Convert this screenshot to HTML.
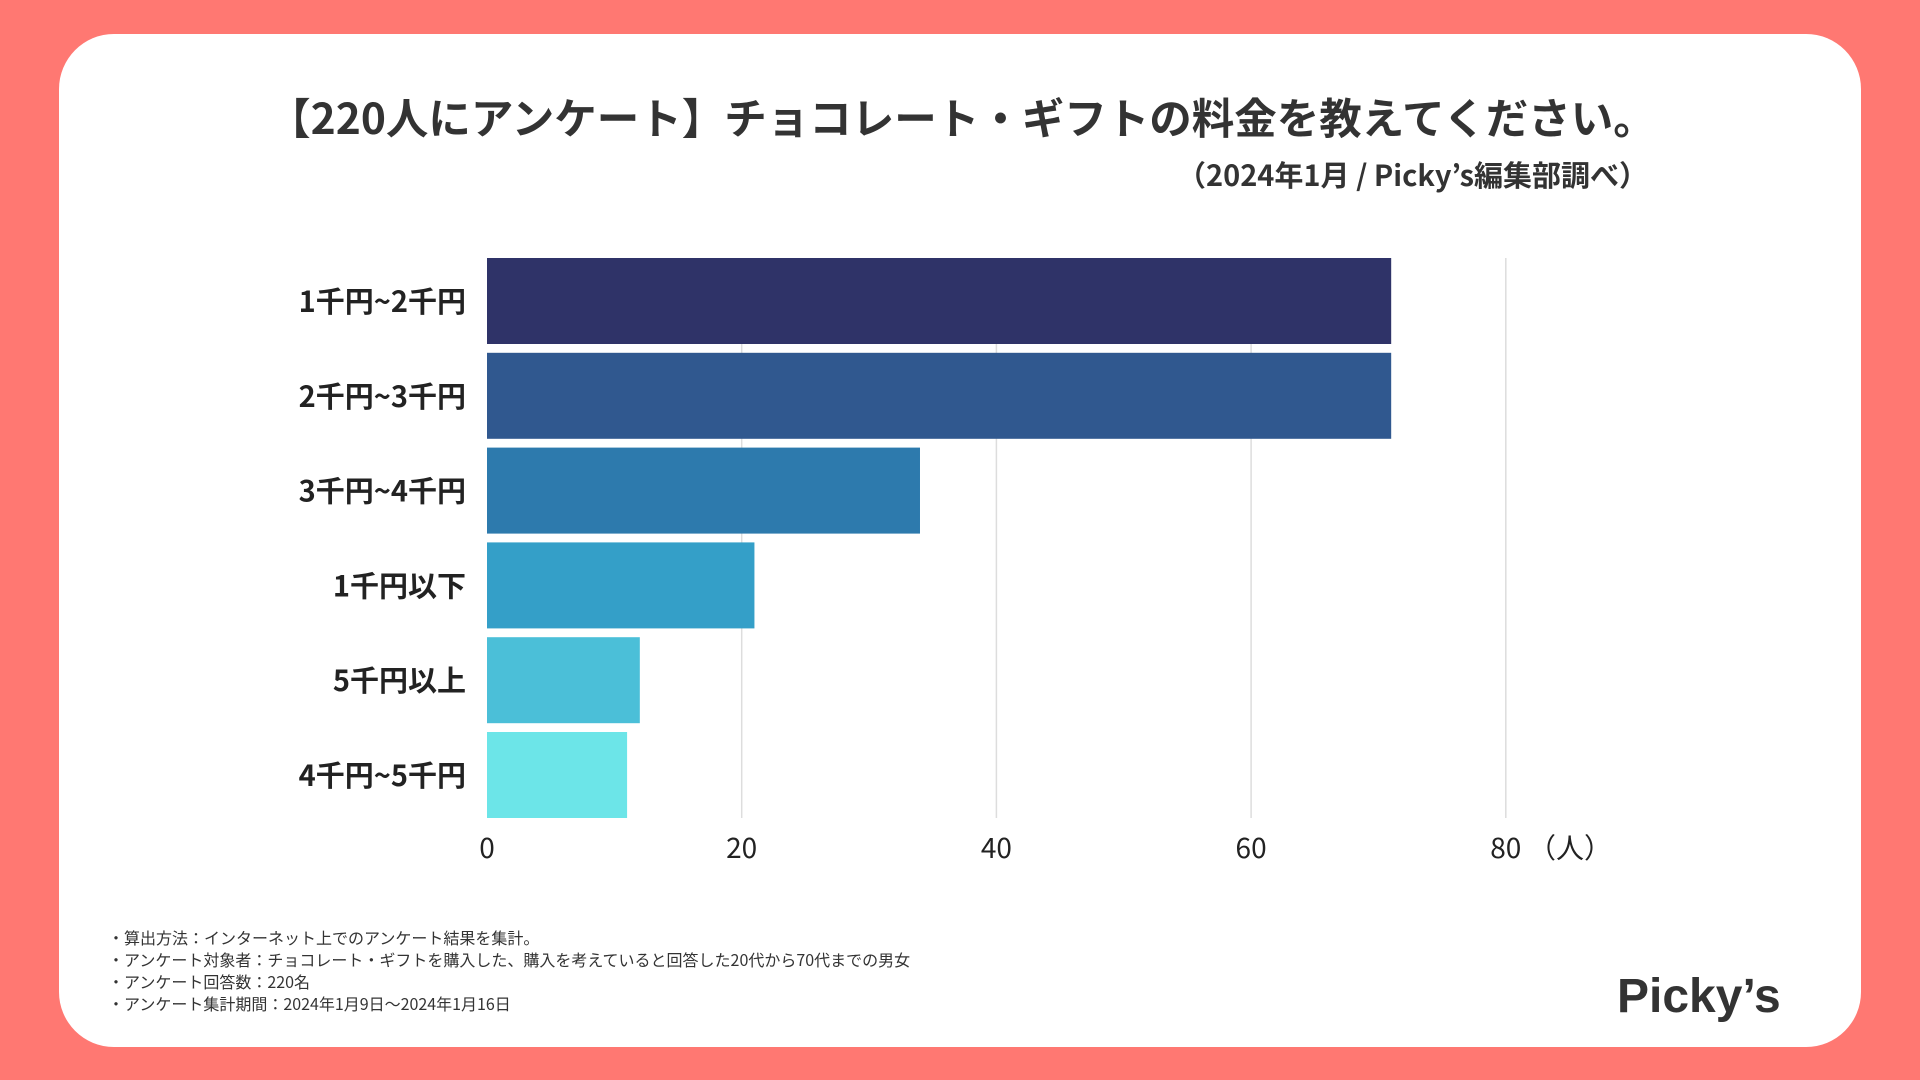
<!DOCTYPE html>
<html><head><meta charset="utf-8">
<style>
html,body{margin:0;padding:0;width:1920px;height:1080px;overflow:hidden;background:#ff7872;}
body{font-family:"Noto Sans CJK JP","Liberation Sans",sans-serif;color:#222;}
#card{position:absolute;left:59px;top:34px;width:1802px;height:1013px;background:#fff;border-radius:55px;}
svg{position:absolute;left:0;top:0;}
</style></head>
<body>
<div id="card"></div>
<svg id="chart" width="1920" height="1080">
<text x="962" y="134" text-anchor="middle" font-size="42.5" font-weight="bold" fill="#333" font-family="Noto Sans CJK JP, Liberation Sans, sans-serif">【220人にアンケート】チョコレート・ギフトの料金を教えてください。</text>
<text x="1648" y="186" text-anchor="end" font-size="29" font-weight="bold" fill="#333" font-family="Noto Sans CJK JP, Liberation Sans, sans-serif">（2024年1月 / Picky’s編集部調べ）</text>
<g id="grid"></g><g id="bars"></g><g id="labels"></g><g id="ticks"></g>
<text x="1528" y="858" font-size="28" fill="#222" font-family="Noto Sans CJK JP, Liberation Sans, sans-serif">（人）</text>
<g font-size="16" fill="#333" font-family="Noto Sans CJK JP, Liberation Sans, sans-serif">
<text x="108" y="944">・算出方法：インターネット上でのアンケート結果を集計。</text>
<text x="108" y="966">・アンケート対象者：チョコレート・ギフトを購入した、購入を考えていると回答した20代から70代までの男女</text>
<text x="108" y="988">・アンケート回答数：220名</text>
<text x="108" y="1010">・アンケート集計期間：2024年1月9日〜2024年1月16日</text>
</g>
<text x="1617" y="1012" font-size="48" font-weight="bold" fill="#333" font-family="Liberation Sans, sans-serif">Picky’s</text>
</svg>
<script>
const categories=["1千円~2千円","2千円~3千円","3千円~4千円","1千円以下","5千円以上","4千円~5千円"];
const values=[71,71,34,21,12,11];
const tickValues=[0,20,40,60,80];
const colors=["#2f3368","#30588f","#2d7aad","#349fc8","#4bbfd8","#6ce5e8"];
const NS="http://www.w3.org/2000/svg";
const x0=487,pxPerUnit=12.735,yTop=258,band=94.8,gap=8.8;
function xs(v){return x0+v*pxPerUnit;}
function ys(i){return yTop+i*band;}
function mk(tag,attrs,parent,txt){const e=document.createElementNS(NS,tag);for(const k in attrs)e.setAttribute(k,attrs[k]);if(txt!==undefined)e.textContent=txt;document.getElementById(parent).appendChild(e);return e;}
tickValues.forEach(t=>{
  if(t>0){const g=mk("line",{x1:xs(t),x2:xs(t),y1:yTop,y2:ys(categories.length)-gap,stroke:"#dddddd","stroke-width":1.5},"grid");
  
  }
  const l=mk("text",{x:xs(t),y:858,"text-anchor":"middle","font-size":28,fill:"#222","font-family":"Noto Sans CJK JP, Liberation Sans, sans-serif"},"ticks",String(t));
  
  
});
values.forEach((v,i)=>{
  const r=mk("rect",{x:x0,y:ys(i),width:xs(v)-x0,height:band-gap,fill:colors[i]},"bars");
  
  
  const t=mk("text",{x:466,y:ys(i)+(band-gap)/2+11,"text-anchor":"end","font-size":29,"font-weight":"bold",fill:"#222","font-family":"Noto Sans CJK JP, Liberation Sans, sans-serif"},"labels",categories[i]);
  
  
});
</script>
</body></html>
